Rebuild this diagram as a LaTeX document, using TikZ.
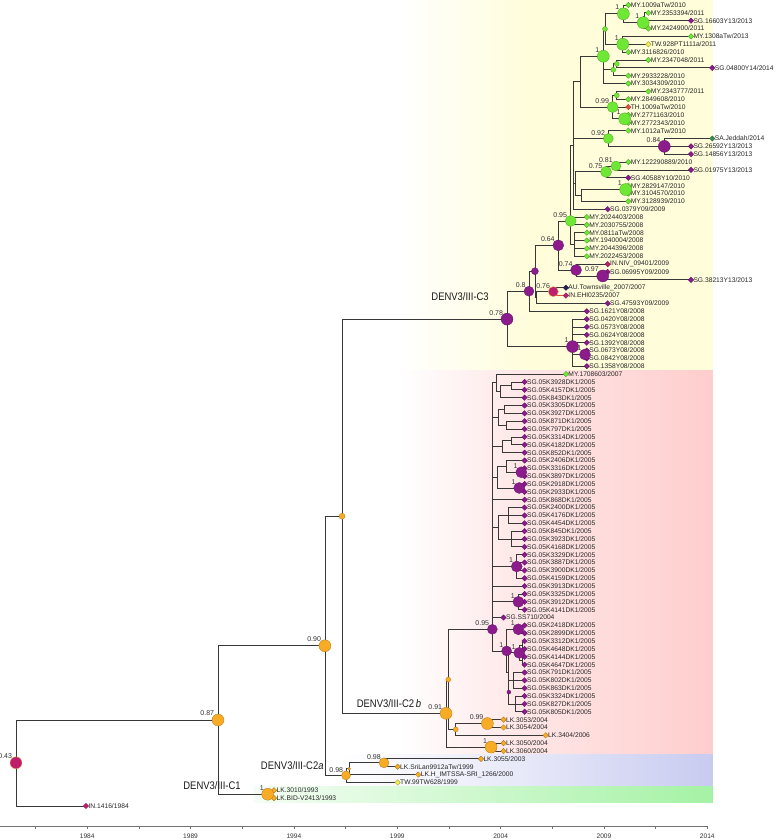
\documentclass[tikz,border=0pt]{standalone}
\usepackage{fontspec}
\setmainfont{Liberation Sans}
\newfontfamily\cladefont[FakeStretch=0.86]{Liberation Sans}
\usetikzlibrary{shapes.geometric}
\definecolor{orangenode}{RGB}{248,172,38}
\definecolor{purplenode}{RGB}{140,28,140}
\definecolor{greennode}{RGB}{110,232,52}
\definecolor{yellowtip}{RGB}{238,238,80}
\definecolor{redtip}{RGB}{232,80,60}
\definecolor{darkgreentip}{RGB}{60,140,80}
\definecolor{crimson}{RGB}{190,30,110}
\definecolor{navytip}{RGB}{45,30,85}
\definecolor{bandyellow}{RGB}{255,253,218}
\definecolor{bandpink}{RGB}{255,205,205}
\definecolor{bandblue}{RGB}{200,203,240}
\definecolor{bandgreen}{RGB}{165,242,165}
\pgfdeclarelayer{bands}
\pgfdeclarelayer{edges}
\pgfsetlayers{bands,edges,main}
\tikzset{
  tip/.style={diamond, draw=#1!65!black, fill=#1, line width=0.3pt, inner sep=0pt, minimum size=5.6pt},
  tiplbl/.style={font=\fontsize{6.7}{7}\selectfont, inner sep=0.6pt, text=black!85},
  bnode/.style 2 args={circle, draw=#1!70!black, fill=#1, line width=0.3pt, inner sep=0pt, minimum size=#2},
  joint/.style={inner sep=0pt, minimum size=0pt},
  supp/.style={font=\fontsize{7}{8}\selectfont, inner sep=0.3pt, text=black!80},
  edge/.style={line width=0.8pt, black!78},
  clade/.style={font=\cladefont\fontsize{11}{12}\selectfont, text=black!90},
  axis/.style={line width=0.6pt, black!55},
  axlbl/.style={font=\fontsize{6.6}{7}\selectfont, text=black!80, inner sep=0pt}
}

\begin{document}
\begin{tikzpicture}[x=20.67pt, y=-7.853pt, label distance=-1.2pt]
  \useasboundingbox (-0.219,0.363) rectangle (37.42,107.33);

  \begin{pgfonlayer}{bands}
    \shade[left color=white, right color=bandyellow] (19.1,0.363) rectangle (25.5,47.48);
    \fill[bandyellow] (25.5,0.363) rectangle (34.27,47.48);
    \shade[left color=white, right color=bandpink!45] (19.1,47.48) rectangle (24.5,96.5);
    \shade[left color=bandpink!45, right color=bandpink] (24.5,47.48) rectangle (34.27,96.5);
    \shade[left color=white, right color=bandblue!40] (16.2,96.5) rectangle (24.5,100.5);
    \shade[left color=bandblue!40, right color=bandblue] (24.5,96.5) rectangle (34.27,100.5);
    \shade[left color=bandgreen!12, right color=bandgreen] (12.1,100.5) rectangle (34.27,102.49);
  \end{pgfonlayer}

  \foreach \row/\xpos/\col/\lab/\yr in {
    1/30.18/greennode/MY.1009aTw/2010, 2/31.15/greennode/MY.2353394/2011,
    3/33.21/purplenode/SG.16603Y13/2013, 4/31.15/greennode/MY.2424900/2011,
    5/33.21/greennode/MY.1308aTw/2013, 6/31.15/yellowtip/TW.928PT1111a/2011,
    7/30.18/greennode/MY.3116826/2010, 8/31.15/greennode/MY.2347048/2011,
    9/34.24/purplenode/SG.04800Y14/2014, 10/30.18/greennode/MY.2933228/2010,
    11/30.18/greennode/MY.3034309/2010, 12/31.15/greennode/MY.2343777/2011,
    13/30.18/greennode/MY.2849608/2010, 14/30.18/redtip/TH.1009aTw/2010,
    15/30.18/greennode/MY.2771163/2010, 16/30.18/greennode/MY.2772343/2010,
    17/30.18/greennode/MY.1012aTw/2010, 18/34.24/darkgreentip/SA.Jeddah/2014,
    19/33.21/purplenode/SG.26592Y13/2013, 20/33.21/purplenode/SG.14856Y13/2013,
    21/30.18/greennode/MY.122290889/2010, 22/33.21/purplenode/SG.01975Y13/2013,
    23/30.18/purplenode/SG.40588Y10/2010, 24/30.18/greennode/MY.2829147/2010,
    25/30.18/greennode/MY.3104570/2010, 26/30.18/greennode/MY.3128939/2010,
    27/29.18/purplenode/SG.0379Y09/2009, 28/28.17/greennode/MY.2024403/2008,
    29/28.17/greennode/MY.2030755/2008, 30/28.17/greennode/MY.0811aTw/2008,
    31/28.17/greennode/MY.1940004/2008, 32/28.17/greennode/MY.2044396/2008,
    33/28.17/greennode/MY.2022453/2008, 34/29.18/crimson/IN.NIV\_09401/2009,
    35/29.18/purplenode/SG.06995Y09/2009, 36/33.21/purplenode/SG.38213Y13/2013,
    37/27.16/navytip/AU.Townsville\_2007/2007, 38/27.16/crimson/IN.EHI0235/2007,
    39/29.18/purplenode/SG.47593Y09/2009, 40/28.17/purplenode/SG.1621Y08/2008,
    41/28.17/purplenode/SG.0420Y08/2008, 42/28.17/purplenode/SG.0573Y08/2008,
    43/28.17/purplenode/SG.0624Y08/2008, 44/28.17/purplenode/SG.1392Y08/2008,
    45/28.17/purplenode/SG.0673Y08/2008, 46/28.17/purplenode/SG.0842Y08/2008,
    47/28.17/purplenode/SG.1358Y08/2008, 48/27.16/greennode/MY.1708603/2007,
    49/25.16/purplenode/SG.05K3928DK1/2005, 50/25.16/purplenode/SG.05K4157DK1/2005,
    51/25.16/purplenode/SG.05K843DK1/2005, 52/25.16/purplenode/SG.05K3305DK1/2005,
    53/25.16/purplenode/SG.05K3927DK1/2005, 54/25.16/purplenode/SG.05K871DK1/2005,
    55/25.16/purplenode/SG.05K797DK1/2005, 56/25.16/purplenode/SG.05K3314DK1/2005,
    57/25.16/purplenode/SG.05K4182DK1/2005, 58/25.16/purplenode/SG.05K852DK1/2005,
    59/25.16/purplenode/SG.05K2406DK1/2005, 60/25.16/purplenode/SG.05K3316DK1/2005,
    61/25.16/purplenode/SG.05K3897DK1/2005, 62/25.16/purplenode/SG.05K2918DK1/2005,
    63/25.16/purplenode/SG.05K2933DK1/2005, 64/25.16/purplenode/SG.05K868DK1/2005,
    65/25.16/purplenode/SG.05K2400DK1/2005, 66/25.16/purplenode/SG.05K4176DK1/2005,
    67/25.16/purplenode/SG.05K4454DK1/2005, 68/25.16/purplenode/SG.05K845DK1/2005,
    69/25.16/purplenode/SG.05K3923DK1/2005, 70/25.16/purplenode/SG.05K4168DK1/2005,
    71/25.16/purplenode/SG.05K3329DK1/2005, 72/25.16/purplenode/SG.05K3887DK1/2005,
    73/25.16/purplenode/SG.05K3900DK1/2005, 74/25.16/purplenode/SG.05K4159DK1/2005,
    75/25.16/purplenode/SG.05K3913DK1/2005, 76/25.16/purplenode/SG.05K3325DK1/2005,
    77/25.16/purplenode/SG.05K3912DK1/2005, 78/25.16/purplenode/SG.05K4141DK1/2005,
    79/24.14/purplenode/SG.SS710/2004, 80/25.16/purplenode/SG.05K2418DK1/2005,
    81/25.16/purplenode/SG.05K2899DK1/2005, 82/25.16/purplenode/SG.05K3312DK1/2005,
    83/25.16/purplenode/SG.05K4648DK1/2005, 84/25.16/purplenode/SG.05K4144DK1/2005,
    85/25.16/purplenode/SG.05K4647DK1/2005, 86/25.16/purplenode/SG.05K791DK1/2005,
    87/25.16/purplenode/SG.05K802DK1/2005, 88/25.16/purplenode/SG.05K863DK1/2005,
    89/25.16/purplenode/SG.05K3324DK1/2005, 90/25.16/purplenode/SG.05K827DK1/2005,
    91/25.16/purplenode/SG.05K805DK1/2005, 92/24.14/orangenode/LK.3053/2004,
    93/24.14/orangenode/LK.3054/2004, 94/26.18/orangenode/LK.3404/2006,
    95/24.14/orangenode/LK.3050/2004, 96/24.14/orangenode/LK.3060/2004,
    97/23.05/orangenode/LK.3055/2003, 98/19.02/orangenode/LK.SriLan9912aTw/1999,
    99/20.02/orangenode/LK.H\_IMTSSA-SRI\_1266/2000, 100/19.02/yellowtip/TW.99TW628/1999,
    101/13.04/orangenode/LK.3010/1993, 102/13.04/orangenode/LK.BID-V2413/1993,
    103/3.94/crimson/IN.1416/1984}
    \node[tip=\col, label={[tiplbl]right:\lab/\yr}] (t\row) at (\xpos,\row) {};

  \node[bnode={crimson}{12pt}, draw=orangenode, label={[supp]above left:0.43}] (root) at (0.555,97.5) {};
  \node[bnode={orangenode}{12pt}, label={[supp]above left:0.87}] (n087) at (10.33,92.05) {};
  \node[bnode={orangenode}{12pt}, label={[supp]above left:0.90}] (n090) at (15.50,82.6) {};
  \node[bnode={orangenode}{12pt}, label={[supp]above left:1}] (nc1) at (12.73,101.5) {};
  \node[bnode={orangenode}{6pt}] (nov) at (16.33,66.1) {};
  \node[bnode={orangenode}{9pt}, label={[supp]above left:0.98}] (nc2a) at (16.52,99.1) {};
  \node[bnode={orangenode}{3pt}] (k2) at (16.67,98.25) {};
  \node[bnode={orangenode}{10pt}, label={[supp]above left:0.98}] (k1) at (18.36,97.5) {};
  \node[bnode={orangenode}{12pt}, label={[supp]above left:0.91}] (nc2b) at (21.36,91.2) {};
  \node[bnode={orangenode}{5pt}] (h4) at (21.47,86.9) {};
  \node[bnode={orangenode}{5pt}] (h2) at (21.83,93.25) {};
  \node[bnode={orangenode}{12pt}, label={[supp]above left:0.99}] (h1) at (23.36,92.5) {};
  \node[bnode={orangenode}{12pt}, label={[supp]above left:1}] (h3) at (23.54,95.5) {};

  \node[bnode={purplenode}{12pt}, label={[supp]above left:0.78}] (nc3) at (24.31,41.0) {};
  \node[bnode={purplenode}{10pt}, label={[supp]above left:0.8}] (e5) at (25.37,37.45) {};
  \node[bnode={purplenode}{7pt}] (e4) at (25.66,34.9) {};
  \node[joint] (f2) at (25.75,38.25) {};
  \node[bnode={crimson}{10pt}, draw=orangenode, label={[supp]above left:0.76}] (f1) at (26.55,37.5) {};
  \node[bnode={purplenode}{11pt}, label={[supp]above left:0.64}] (e3) at (26.79,31.6) {};
  \node[bnode={purplenode}{11pt}, label={[supp]above left:0.74}] (e2) at (27.65,34.75) {};
  \node[bnode={purplenode}{12pt}, label={[supp]above left:0.97}] (e1) at (28.94,35.5) {};
  \node[bnode={purplenode}{12pt}, label={[supp]above left:1}] (g2) at (27.48,44.5) {};
  \node[bnode={purplenode}{11pt}, label={[supp]above left:1}] (g1) at (28.08,45.5) {};
  \node[bnode={greennode}{11pt}, label={[supp]above left:0.95}] (ng95) at (27.39,28.5) {};
  \node[joint] (w1) at (27.55,31.5) {};
  \node[joint] (u1) at (27.5,18.9) {};
  \node[joint] (p2) at (27.84,10.77) {};
  \node[bnode={greennode}{12pt}, label={[supp]above left:1}] (a8) at (28.97,7.53) {};
  \node[bnode={greennode}{5pt}] (a5) at (29.05,4.06) {};
  \node[bnode={greennode}{12pt}, label={[supp]above left:1}] (a3) at (29.94,2.125) {};
  \node[bnode={greennode}{12pt}, label={[supp]above left:1}] (a2) at (30.9,3.25) {};
  \node[joint] (a1) at (30.98,2.5) {};
  \node[bnode={greennode}{12pt}, label={[supp]above left:1}] (a4) at (29.91,6.0) {};
  \node[bnode={greennode}{5pt}] (a7) at (29.45,9.25) {};
  \node[bnode={greennode}{5pt}] (a6) at (29.62,8.5) {};
  \node[bnode={greennode}{11pt}, label={[supp]above left:0.99}] (b3) at (29.42,14.0) {};
  \node[bnode={greennode}{5pt}] (b1) at (29.62,12.5) {};
  \node[bnode={greennode}{12pt}, label={[supp]above left:1}] (b2) at (30.0,15.5) {};
  \node[bnode={greennode}{10pt}, label={[supp]above left:0.92}] (c2) at (29.21,18.0) {};
  \node[bnode={purplenode}{12pt}, label={[supp]above left:0.84}] (c1) at (31.92,19.0) {};
  \node[joint] (d5) at (27.6,23.75) {};
  \node[bnode={greennode}{11pt}, label={[supp]above left:0.75}] (d2) at (29.1,22.25) {};
  \node[bnode={greennode}{10pt}, label={[supp]above left:0.81}] (d1) at (29.58,21.5) {};
  \node[joint] (d4) at (27.92,25.25) {};
  \node[bnode={greennode}{12pt}, label={[supp]above left:1}] (d3) at (30.05,24.5) {};

  \node[bnode={purplenode}{10pt}, label={[supp]above left:0.95}] (pk) at (23.6,80.5) {};
  \node[joint] (m1) at (23.8,49.1) {};
  \node[joint] (m3) at (24.0,50.25) {};
  \node[joint] (m2) at (24.5,49.5) {};
  \node[joint] (m6) at (23.9,53.5) {};
  \node[joint] (m4) at (24.2,52.5) {};
  \node[joint] (m5) at (24.3,54.5) {};
  \node[joint] (m8) at (24.1,57.25) {};
  \node[joint] (m7) at (24.5,56.5) {};
  \node[joint] (m12) at (23.85,61.1) {};
  \node[joint] (m10) at (24.3,59.75) {};
  \node[bnode={purplenode}{11pt}, label={[supp]above left:1}] (m9) at (25.0,60.5) {};
  \node[bnode={purplenode}{11pt}, label={[supp]above left:1}] (m11) at (24.9,62.5) {};
  \node[joint] (m15) at (23.9,67.5) {};
  \node[joint] (m13) at (24.4,66) {};
  \node[joint] (m14) at (24.5,69) {};
  \node[bnode={purplenode}{11pt}, label={[supp]above left:1}] (m16) at (24.78,72.5) {};
  \node[bnode={purplenode}{11pt}, label={[supp]above left:1}] (m17) at (24.86,77) {};
  \node[bnode={purplenode}{10pt}, label={[supp]above left:1}] (q1) at (24.29,83.25) {};
  \node[bnode={purplenode}{11pt}, label={[supp]above left:1}] (q2) at (24.86,80.5) {};
  \node[joint] (q9) at (24.36,86) {};
  \node[bnode={purplenode}{11pt}, label={[supp]above left:1}] (q3) at (24.9,83.5) {};
  \node[joint] (q4) at (25.05,82.5) {};
  \node[joint] (q5) at (25.05,84.5) {};
  \node[bnode={purplenode}{4pt}] (q8) at (24.4,88.5) {};
  \node[joint] (q6) at (24.6,87) {};
  \node[joint] (q7) at (24.7,90) {};

  \node[clade] (lc3) at (22.04,38.18) {DENV3/III-C3};
  \node[clade] (lc2b) at (18.6,89.9) {DENV3/III-C2\,\textit{b}};
  \node[clade] (lc2a) at (13.92,97.8) {DENV3/III-C2\textit{a}};
  \node[clade] (lc1) at (10.04,100.45) {DENV3/III-C1};

  \begin{pgfonlayer}{edges}
    \foreach \ptn/\ctn in {root/n087, root/t103, n087/n090, n087/nc1, nc1/t101, nc1/t102,
      n090/nov, n090/nc2a, nc2a/k2, nc2a/t100, k2/k1, k2/t99, k1/t97, k1/t98,
      nov/nc3, nov/nc2b, nc2b/h4, nc2b/h3, h4/pk, h4/h2, h2/h1, h2/t94,
      h1/t92, h1/t93, h3/t95, h3/t96,
      nc3/e5, nc3/g2, e5/e4, e5/t40, e4/e3, e4/f2, f2/f1, f2/t39, f1/t37,
      e3/ng95, e3/e2, e2/t34, e2/e1, e1/t35, e1/t36,
      g2/t41, g2/t42, g2/t43, g2/t44, g2/g1, g2/t47, g1/t45, g1/t46,
      ng95/u1, ng95/t28, ng95/t29, ng95/w1, w1/t30, w1/t31, w1/t32, w1/t33,
      u1/p2, u1/c2, u1/d5, u1/t27, p2/a8, p2/b3,
      a8/a5, a8/a7, a8/t11, a5/a3, a5/a4, a3/t1, a3/a2, a2/a1, a2/t4, a1/t2, a1/t3,
      a4/t5, a4/t6, a4/t7, a7/a6, a7/t10, a6/t8, a6/t9,
      b3/b1, b3/t14, b3/b2, b1/t12, b1/t13, b2/t15, b2/t16,
      c2/t17, c2/c1, c1/t18, c1/t19, c1/t20,
      d5/d2, d5/d4, d2/d1, d2/t23, d1/t21, d1/t22, d4/d3, d4/t26, d3/t24, d3/t25,
      pk/m1, pk/m6, pk/m8, pk/m12, pk/t64, pk/m15, pk/m16, pk/t75, pk/m17, pk/t79, pk/q1,
      m1/t48, m1/m3, m3/m2, m3/t51, m2/t49, m2/t50,
      m6/m4, m6/m5, m4/t52, m4/t53, m5/t54, m5/t55,
      m8/m7, m8/t58, m7/t56, m7/t57,
      m12/m10, m12/m11, m10/t59, m10/m9, m9/t60, m9/t61, m11/t62, m11/t63,
      m15/m13, m15/m14, m13/t65, m13/t66, m13/t67, m14/t68, m14/t69, m14/t70,
      m16/t71, m16/t72, m16/t73, m16/t74, m17/t76, m17/t77, m17/t78,
      q1/q2, q1/q9, q2/t80, q2/t81, q9/q3, q9/q8, q3/q4, q3/q5,
      q4/t82, q4/t83, q5/t84, q5/t85, q8/q6, q8/q7,
      q6/t86, q6/t87, q6/t88, q7/t89, q7/t90, q7/t91}
      \draw[edge] (\ptn.center) |- (\ctn.center);
    \draw[edge, redtip] (f1.center) |- (t38.center);
  \end{pgfonlayer}

  \draw[axis] (-0.22,105.55) -- (34,105.55);
  \foreach \k in {0,...,13}
    \draw[axis] ({1.5+2.5*\k},105.55) -- ++(0,0.32);
  \foreach \yr in {1984,1989,...,2014}
    \node[axlbl] (yr\yr) at (\yr-1980,106.85) {\yr};
\end{tikzpicture}
\end{document}
